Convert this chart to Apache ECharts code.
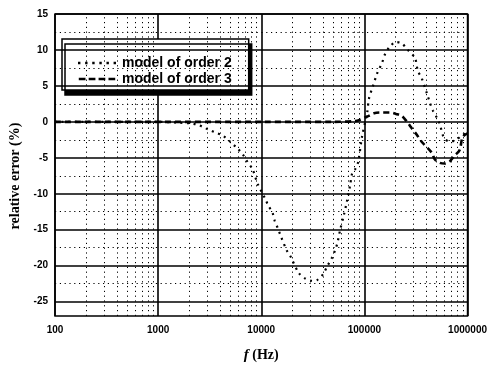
<!DOCTYPE html>
<html>
<head>
<meta charset="utf-8">
<script src="https://cdn.jsdelivr.net/npm/echarts@6/dist/echarts.min.js"></script>
<style>
  html, body { margin: 0; padding: 0; background: #fff; }
  #chart { width: 490px; height: 368px; }
</style>
</head>
<body>
<div id="chart"></div>
<script>
// Frequency response error of two reduced-order models (frequency in Hz, error in %)
const freqOrder2 = [100, 300, 1000, 1500, 2000, 2430, 2710, 3100, 3620, 4230, 4940, 5780, 6600, 7380, 8240, 9210,
  11000, 11840, 12760, 13530, 14460, 15590, 17550, 19180, 23070, 26780, 31060, 34740, 39660, 43950, 48450,
  52120, 54840, 58240, 62660, 67590, 72750, 76000, 81300, 86900, 95000, 106200, 111000, 121300, 132600,
  148200, 158400, 177100, 202300, 231100, 264000, 308600, 329900, 360500, 403000, 430700, 460500, 503500,
  538000, 590000, 660000, 760000, 878000, 1000000];
const errOrder2 = [0, 0, 0, -0.1, -0.2, -0.4, -0.7, -1.1, -1.5, -1.9, -2.7, -3.6, -4.5, -5.6, -6.6, -8.6,
  -10.8, -11.8, -12.5, -13.8, -14.8, -16.0, -17.8, -18.7, -21.0, -21.8, -22.1, -22.0, -21.2, -20.0, -18.9,
  -17.8, -16.8, -15.0, -13.2, -11.1, -8.8, -7.2, -6.6, -5.6, -2.0, 1.2, 3.3, 5.0, 6.7,
  8.2, 9.4, 10.5, 11.1, 10.9, 10.0, 8.9, 7.1, 6.0, 4.0, 2.7, 1.6, 0.6,
  -0.3, -2.2, -2.7, -2.6, -1.9, -1.5];

const freqOrder3 = [100, 1000, 10000, 50000, 81300, 91000, 104000, 108700, 124000, 141900, 177100, 202300,
  231100, 259000, 288000, 322000, 360500, 450600, 481000, 538000, 601000, 671000, 750000, 839000, 897000, 1000000];
const errOrder3 = [0, 0, 0, 0, 0.1, 0.3, 0.7, 0.8, 1.2, 1.3, 1.3, 1.1,
  0.8, 0.0, -0.9, -1.8, -2.8, -4.3, -5.2, -5.7, -5.8, -5.5, -4.7, -3.9, -2.1, -1.6];

// Axis ticks
const yMajorTicks = [15, 10, 5, 0, -5, -10, -15, -20, -25];
const yMinorTicks = [12.5, 7.5, 2.5, -2.5, -7.5, -12.5, -17.5, -22.5];
const xDecades = [100, 1000, 10000, 100000];
const xMinorSteps = [2, 3, 4, 5, 6, 7, 8, 9];
const xMinorTicks = [];
xDecades.forEach(d => xMinorSteps.forEach(m => xMinorTicks.push(d * m)));

const pairs = (xs, ys) => xs.map((x, i) => [x, ys[i]]);

// Legend keys: a row of dots and a row of dashes
function keyPath(count, mark, step, h) {
  let p = 'path://';
  for (let i = 0; i < count; i++) p += 'M' + (i * step) + ',0h' + mark + 'v' + h + 'h-' + mark + 'z';
  return p;
}
const dottedKey = keyPath(6, 2.4, 7.1, 2.4);
const dashedKey = keyPath(4, 7, 10.3, 2.6);

const chart = echarts.init(document.getElementById('chart'), null, { renderer: 'canvas' });

const option = {
  backgroundColor: '#fff',
  animation: false,
  grid: {
    left: 54, right: 22, top: 14, bottom: 50,
    show: true, borderColor: '#000', borderWidth: 1.5, backgroundColor: 'transparent'
  },
  legend: {
    orient: 'vertical',
    left: 62, top: 39,
    data: [
      { name: 'model of order 2', icon: dottedKey },
      { name: 'model of order 3', icon: dashedKey }
    ],
    backgroundColor: '#fff',
    borderColor: '#000',
    borderWidth: 1.5,
    shadowColor: '#000',
    shadowBlur: 0,
    shadowOffsetX: 3,
    shadowOffsetY: 5,
    padding: [17, 17, 4, 16],
    itemGap: 2,
    itemWidth: 38,
    itemHeight: 2.5,
    itemStyle: { color: '#000', borderWidth: 0 },
    textStyle: { fontFamily: 'Liberation Sans', fontWeight: 'bold', fontSize: 14, color: '#000', padding: [0, 0, 0, 1] }
  },
  xAxis: {
    type: 'log',
    logBase: 10,
    min: 100,
    max: 1000000,
    name: '{i|f} (Hz)',
    nameLocation: 'middle',
    nameGap: 32,
    nameTextStyle: {
      fontFamily: 'Liberation Serif', fontWeight: 'bold', fontSize: 14, color: '#000',
      rich: { i: { fontStyle: 'italic', fontFamily: 'Liberation Serif', fontWeight: 'bold', fontSize: 15, color: '#000' } }
    },
    axisLine: { show: false },
    axisTick: { show: false },
    axisLabel: {
      margin: 9,
      fontFamily: 'Liberation Sans', fontWeight: 'bold', fontSize: 10, color: '#000',
      formatter: v => String(Math.round(v))
    },
    splitLine: { show: true, lineStyle: { color: '#000', width: 1.6 } }
  },
  yAxis: {
    type: 'value',
    min: -27,
    max: 15,
    name: 'relative error (%)',
    nameLocation: 'middle',
    nameGap: 33,
    nameTextStyle: {
      fontFamily: 'Liberation Serif', fontWeight: 'bold', fontSize: 14, color: '#000',
      padding: [0, 22, 0, 0]
    },
    axisLine: { show: false },
    axisTick: { show: false },
    axisLabel: {
      customValues: yMajorTicks,
      margin: 7,
      fontFamily: 'Liberation Sans', fontWeight: 'bold', fontSize: 10, color: '#000'
    },
    splitLine: { show: false }
  },
  series: [
    {
      // background grid drawn on the data scales
      name: 'grid',
      type: 'line',
      data: [],
      silent: true,
      z: 1,
      markLine: {
        silent: true,
        symbol: 'none',
        animation: false,
        label: { show: false },
        data: [].concat(
          yMinorTicks.map(v => ({ yAxis: v, lineStyle: { color: '#000', width: 1, type: [1.2, 3.6] } })),
          xMinorTicks.map(v => ({ xAxis: v, lineStyle: { color: '#000', width: 1, type: [1.2, 3.6] } })),
          yMajorTicks.map(v => ({ yAxis: v, lineStyle: { color: '#000', width: 1.5, type: 'solid' } }))
        )
      }
    },
    {
      name: 'model of order 2',
      type: 'line',
      z: 3,
      symbol: 'none',
      smooth: 0.3,
      data: pairs(freqOrder2, errOrder2),
      lineStyle: { color: '#000', width: 2.2, type: [2, 4.6], cap: 'butt' },
      itemStyle: { color: '#000' }
    },
    {
      name: 'model of order 3',
      type: 'line',
      z: 4,
      symbol: 'none',
      smooth: 0.3,
      data: pairs(freqOrder3, errOrder3),
      lineStyle: { color: '#000', width: 2.6, type: [6, 4] },
      itemStyle: { color: '#000' }
    }
  ]
};

chart.setOption(option);
</script>
</body>
</html>
